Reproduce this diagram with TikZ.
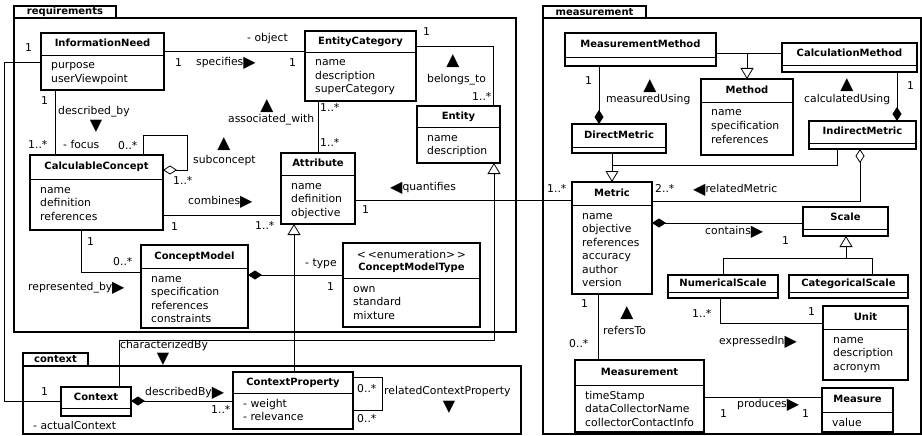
\documentclass[tikz,border=0pt]{standalone}
\usepackage{fontspec}
\setmainfont{DejaVu Sans}
\usetikzlibrary{arrows.meta,calc}

% direction marks for association names
\newcommand{\arrUp}{{\fontsize{17}{17}\selectfont ▲}}
\newcommand{\arrDown}{{\fontsize{16}{16}\selectfont ▼}}
\newcommand{\arrRight}{\raisebox{-1.5pt}{\fontsize{16}{16}\selectfont ▶}}
\newcommand{\arrLeft}{\raisebox{-1.5pt}{\fontsize{16}{16}\selectfont ◀}}

\tikzset{
  classbox/.style={draw, line width=1.8pt, inner sep=0pt, outer sep=0pt, fill=white},
  ctitle/.style={font=\bfseries, inner sep=0pt, text height=7.6pt, text depth=2.2pt},
  attr/.style={inner sep=0pt},
  divline/.style={line width=0.8pt},
  conn/.style={line width=0.8pt},
  comp/.style={conn, -{Diamond[length=14pt,width=9pt]}},
  agg/.style={conn, -{Diamond[open,length=14pt,width=9pt]}},
  aggstart/.style={conn, {Diamond[open,length=14pt,width=9pt]}-},
  gen/.style={conn, -{Triangle[open,length=11pt,width=13pt]}},
  lbl/.style={inner sep=0pt, anchor=west, text height=7.5pt, text depth=2pt},
  dirmark/.style={inner sep=0pt, anchor=center},
  pkgframe/.style={draw, line width=1.8pt, inner sep=0pt, outer sep=0pt},
  pkgtab/.style={draw, line width=1.8pt, inner sep=0pt, outer sep=0pt, font=\bfseries},
}

% #1 name, #2 x1, #3 y1, #4 x2, #5 y2, #6 compartment line y, #7 title, #8 attributes
\newcommand{\umlclass}[8]{%
  \node[classbox, minimum width={#4-#2}, minimum height={#5-#3}, anchor=north west] (#1) at (#2,#3) {};
  \node[ctitle] (#1-title) at ({(#2+#4)/2},{(#3+#6)/2}) {#7};
  \draw[divline] (#1.west |- 0,#6) -- (#1.east |- 0,#6);
  \if\relax\detokenize{#8}\relax\else
    \foreach \x [count=\i] in {#8} {
      \node[attr, anchor=base west] (#1-a\i) at ({#2+10},{#6+14+(\i-1)*13.5}) {\x};
    }
  \fi
}

\begin{document}
\begin{tikzpicture}[x=1pt, y=-1pt, font=\fontsize{10.8}{12}\selectfont]
\useasboundingbox (0,0) rectangle (922,436);

% ---------------- packages ----------------
\node[pkgframe, minimum width=502, minimum height=314, anchor=north west] (reqPkg) at (14,18) {};
\node[pkgtab, minimum width=102, minimum height=12, anchor=south west] (reqTab) at (reqPkg.north west) {requirements};

\node[pkgframe, minimum width=378, minimum height=416, anchor=north west] (measPkg) at (543,18) {};
\node[pkgtab, minimum width=103, minimum height=12, anchor=south west] (measTab) at (measPkg.north west) {measurement};

\node[pkgframe, minimum width=498, minimum height=68, anchor=north west] (ctxPkg) at (23,366) {};
\node[pkgtab, minimum width=65, minimum height=13, anchor=south west] (ctxTab) at (ctxPkg.north west) {context};

% ---------------- classes: requirements ----------------
\umlclass{InfoNeed}{41}{33}{164}{90}{55}{InformationNeed}{purpose,userViewpoint}
\umlclass{EntCat}{305}{31}{416}{101}{52}{EntityCategory}{name,description,superCategory}
\umlclass{Entity}{417}{106}{500}{163}{127}{Entity}{name,description}
\umlclass{CalcConcept}{30}{155}{163}{230}{179}{CalculableConcept}{name,definition,references}
\umlclass{Attribute}{281}{153}{355}{224}{175}{Attribute}{name,definition,objective}
\umlclass{ConceptModel}{141}{245}{248}{328}{268}{ConceptModel}{name,specification,references,constraints}
\umlclass{CMType}{343}{243}{480}{327}{278}{}{own,standard,mixture}
\node[attr] (CMType-st) at (411.5,254) {<\,<enumeration>\,>};
\node[ctitle] (CMType-name) at (411.5,268) {ConceptModelType};

% ---------------- classes: context ----------------
\umlclass{Context}{61}{387}{131}{416}{408}{Context}{}
\umlclass{CtxProp}{233}{372}{353}{429}{393}{ContextProperty}{- weight,- relevance}

% ---------------- classes: measurement ----------------
\umlclass{MeasMethod}{565}{33}{716}{66}{57}{MeasurementMethod}{}
\umlclass{CalcMethod}{782}{43}{917}{72}{65}{CalculationMethod}{}
\umlclass{Method}{701}{79}{793}{155}{102}{Method}{name,specification,references}
\umlclass{DirectMetric}{572}{124}{666}{153}{147}{DirectMetric}{}
\umlclass{IndirectMetric}{809}{121}{916}{149}{143}{IndirectMetric}{}
\umlclass{Metric}{572}{182}{652}{294}{205}{Metric}{name,objective,references,accuracy,author,version}
\umlclass{Scale}{803}{207}{888}{236}{229}{Scale}{}
\umlclass{NumScale}{668}{275}{778}{298}{292}{NumericalScale}{}
\umlclass{CatScale}{789}{275}{908}{298}{292}{CategoricalScale}{}
\umlclass{Unit}{823}{306}{908}{380}{329}{Unit}{name,description,acronym}
\umlclass{Measurement}{575}{360}{704}{432}{385}{Measurement}{timeStamp,dataCollectorName,collectorContactInfo}
\umlclass{Measure}{822}{388}{893}{432}{412}{Measure}{value}

% ---------------- connectors ----------------
\draw[conn] (InfoNeed.east |- 0,51) -- (EntCat.west |- 0,51);
\draw[conn] (InfoNeed.west |- 0,62) -| (4,401) -- (Context.west |- 0,401);
\draw[conn] (InfoNeed.south -| 55,0) -- (CalcConcept.north -| 55,0);
\draw[agg] (CalcConcept.north -| 143,0) -- (143,135) -- (187,135) -- (187,170) -- (CalcConcept.east |- 0,170);
\draw[conn] (CalcConcept.east |- 0,215) -- (Attribute.west |- 0,215);
\draw[conn] (CalcConcept.south -| 81,0) |- (ConceptModel.west |- 0,272);
\draw[comp] (CMType.west |- 0,275) -- (ConceptModel.east |- 0,275);
\draw[conn] (EntCat.south -| 318,0) -- (Attribute.north -| 318,0);
\draw[conn] (EntCat.east |- 0,46) -| (Entity.north -| 493,0);
\draw[conn] (Attribute.east |- 0,200) -- (Metric.west |- 0,200);
\draw[gen] (CtxProp.north -| 294,0) -- (Attribute.south -| 294,0);
\draw[gen] (Context.north -| 119,0) |- (494,340) -- (Entity.south -| 494,0);
\draw[comp] (CtxProp.west |- 0,401) -- (Context.east |- 0,401);
\draw[conn] (CtxProp.east |- 0,377) -- (382,377) -- (382,410) -- (CtxProp.east |- 0,410);

\draw[conn] (MeasMethod.east |- 0,53) -- (CalcMethod.west |- 0,53);
\coordinate (methodJoin) at (747,53);
\draw[gen] (methodJoin) -- (Method.north -| 747,0);
\draw[comp] (MeasMethod.south -| 599,0) -- (DirectMetric.north -| 599,0);
\draw[comp] (CalcMethod.south -| 897,0) -- (IndirectMetric.north -| 897,0);
\coordinate (metricJoin) at (612,165);
\draw[conn] (DirectMetric.south -| 612,0) -- (metricJoin);
\draw[gen] (metricJoin) -- (Metric.north -| 612,0);
\draw[conn] (IndirectMetric.south -| 837,0) |- (metricJoin);
\draw[aggstart] (IndirectMetric.south -| 860,0) |- (Metric.east |- 0,201);
\draw[comp] (Scale.west |- 0,223) -- (Metric.east |- 0,223);
\coordinate (scaleJoin) at (846,258);
\draw[gen] (scaleJoin) -- (Scale.south -| 846,0);
\draw[conn] (NumScale.north -| 723,0) |- (872,258) -- (CatScale.north -| 872,0);
\draw[conn] (NumScale.south -| 720,0) |- (Unit.west |- 0,323);
\draw[conn] (Metric.south -| 598,0) -- (Measurement.north -| 598,0);
\draw[conn] (Measurement.east |- 0,397) -- (Measure.west |- 0,397);

% ---------------- association labels: requirements ----------------
\node[lbl] (tObject) at (247,39) {- object};
\node[lbl] (mInfoA) at (175,64) {1};
\node[lbl] (tSpecifies) at (196,63) {specifies\arrRight};
\node[lbl] (mEntCatA) at (289,64) {1};
\node[lbl] (mInfoB) at (25,49) {1};
\node[lbl] (mInfoC) at (41,102) {1};
\node[lbl] (tDescribed) at (58,112) {described\_by};
\node[dirmark] (dDescribed) at (96,126) {\arrDown};
\node[lbl] (mCalcA) at (28,146) {1..*};
\node[lbl] (tFocus) at (63,146) {- focus};
\node[lbl] (mSubA) at (118,147) {0..*};
\node[dirmark] (dSub) at (224,144) {\arrUp};
\node[lbl] (tSub) at (193,161) {subconcept};
\node[lbl] (mSubB) at (173,182) {1..*};
\node[lbl] (tCombines) at (188,202) {combines\arrRight};
\node[lbl] (mCalcB) at (171,228) {1};
\node[lbl] (mAttrA) at (255,227) {1..*};
\node[lbl] (mCalcC) at (87,243) {1};
\node[lbl] (mModelA) at (113,263) {0..*};
\node[lbl] (tRepresented) at (28,288) {represented\_by\arrRight};
\node[lbl] (tType) at (305,264) {- type};
\node[lbl] (mTypeA) at (327,288) {1};
\node[dirmark] (dAssoc) at (267,106) {\arrUp};
\node[lbl] (tAssoc) at (228,120) {associated\_with};
\node[lbl] (mEntCatB) at (320,109) {1..*};
\node[lbl] (mAttrB) at (320,144) {1..*};
\node[lbl] (mEntCatC) at (423,33) {1};
\node[dirmark] (dBelongs) at (453,61) {\arrUp};
\node[lbl] (tBelongs) at (427,80) {belongs\_to};
\node[lbl] (mEntityA) at (472,98) {1..*};
\node[lbl] (tQuantifies) at (390,188) {\arrLeft quantifies};
\node[lbl] (mAttrC) at (362,211) {1};
\node[lbl] (mMetricA) at (547,190) {1..*};

% ---------------- association labels: context ----------------
\node[lbl] (tCharacterized) at (120,346) {characterizedBy};
\node[dirmark] (dCharacterized) at (163,359) {\arrDown};
\node[lbl] (mContextA) at (41,393) {1};
\node[lbl] (tActual) at (33,427) {- actualContext};
\node[lbl] (tDescribedBy) at (145,393) {describedBy\arrRight};
\node[lbl] (mPropA) at (211,411) {1..*};
\node[lbl] (mPropB) at (357,390) {0..*};
\node[lbl] (mPropC) at (357,420) {0..*};
\node[lbl] (tRelatedProp) at (384,392) {relatedContextProperty};
\node[dirmark] (dRelatedProp) at (449,407) {\arrDown};

% ---------------- association labels: measurement ----------------
\node[lbl] (mMeasMethod) at (585,82) {1};
\node[dirmark] (dMeasured) at (650,86) {\arrUp};
\node[lbl] (tMeasured) at (606,100) {measuredUsing};
\node[dirmark] (dCalculated) at (847,85) {\arrUp};
\node[lbl] (tCalculated) at (804,100) {calculatedUsing};
\node[lbl] (mCalcMethod) at (907,87) {1};
\node[lbl] (mMetricB) at (655,190) {2..*};
\node[lbl] (tRelatedMetric) at (693,190) {\arrLeft relatedMetric};
\node[lbl] (tContains) at (705,232) {contains\arrRight};
\node[lbl] (mScale) at (782,242) {1};
\node[lbl] (mMetricC) at (581,305) {1};
\node[dirmark] (dRefers) at (627,313) {\arrUp};
\node[lbl] (tRefers) at (603,332) {refersTo};
\node[lbl] (mMeasurementA) at (569,345) {0..*};
\node[lbl] (mNumScale) at (692,315) {1..*};
\node[lbl] (mUnit) at (808,313) {1};
\node[lbl] (tExpressed) at (719,342) {expressedIn\arrRight};
\node[lbl] (tProduces) at (737,405) {produces\arrRight};
\node[lbl] (mMeasurementB) at (720,415) {1};
\node[lbl] (mMeasure) at (802,415) {1};
\end{tikzpicture}
\end{document}
